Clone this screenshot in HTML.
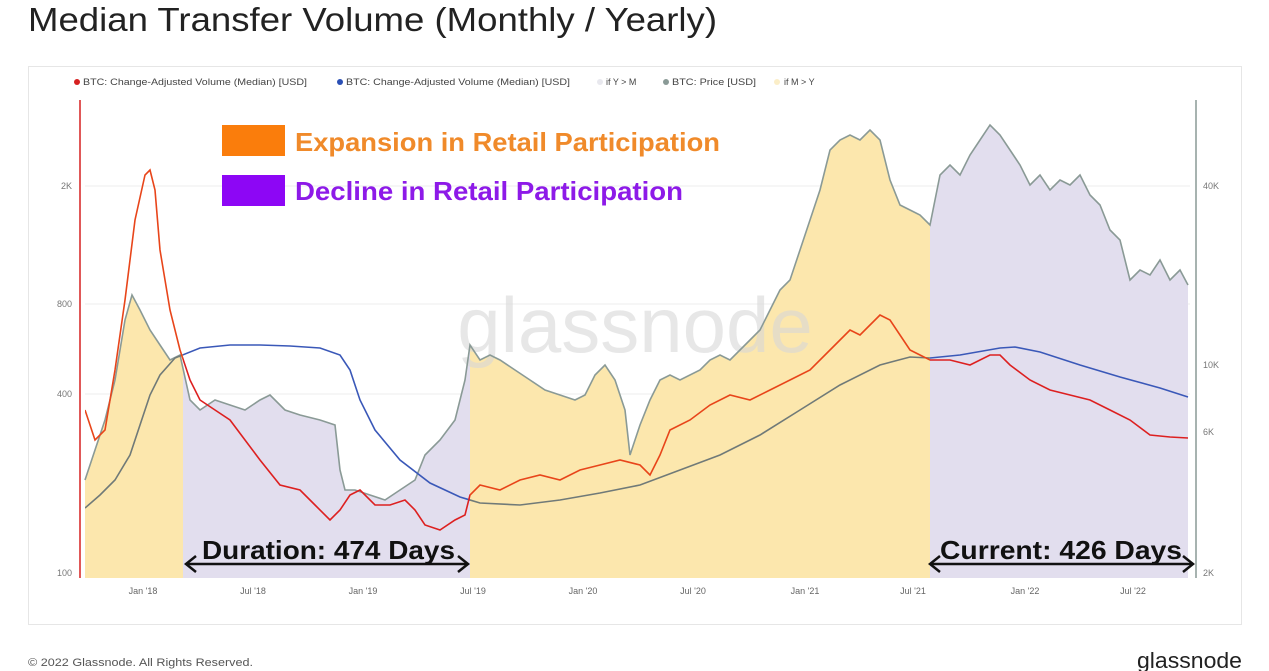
<!DOCTYPE html>
<html><head><meta charset="utf-8"><style>
html,body{margin:0;padding:0;background:#fff;width:1269px;height:671px;overflow:hidden;font-family:"Liberation Sans",sans-serif}
</style></head><body>
<svg width="1269" height="671" viewBox="0 0 1269 671" xmlns="http://www.w3.org/2000/svg" font-family="Liberation Sans, sans-serif">
<defs>
<clipPath id="cy"><rect x="85" y="90" width="98" height="490"/><rect x="470" y="90" width="460" height="490"/></clipPath>
<clipPath id="cp"><rect x="183" y="90" width="287" height="490"/><rect x="930" y="90" width="260" height="490"/></clipPath>
</defs>
<text x="28" y="31" font-size="33" fill="#222" textLength="689" lengthAdjust="spacingAndGlyphs">Median Transfer Volume (Monthly / Yearly)</text>
<rect x="28.5" y="66.5" width="1213" height="558" fill="#fff" stroke="#e6e6e6"/>
<!-- legend -->
<g font-size="9" fill="#444">
<circle cx="77" cy="82" r="3" fill="#d62020"/><text x="83" y="85" textLength="224" lengthAdjust="spacingAndGlyphs">BTC: Change-Adjusted Volume (Median) [USD]</text>
<circle cx="340" cy="82" r="3" fill="#2a4fb5"/><text x="346" y="85" textLength="224" lengthAdjust="spacingAndGlyphs">BTC: Change-Adjusted Volume (Median) [USD]</text>
<circle cx="600" cy="82" r="3" fill="#e8e8ee"/><text x="606" y="85">if Y &gt; M</text>
<circle cx="666" cy="82" r="3" fill="#8a9a96"/><text x="672" y="85" textLength="84" lengthAdjust="spacingAndGlyphs">BTC: Price [USD]</text>
<circle cx="777" cy="82" r="3" fill="#fbeec8"/><text x="784" y="85">if M &gt; Y</text>
</g>
<!-- grid -->
<g stroke="#eeeeee"><line x1="85" y1="186" x2="1190" y2="186"/><line x1="85" y1="304" x2="1190" y2="304"/><line x1="85" y1="394" x2="1190" y2="394"/></g>
<!-- fills -->
<polygon points="85,578 85,480 95,450 105,420 115,380 125,320 132,295 140,310 150,330 160,345 170,360 180,355 190,400 200,410 215,400 230,405 245,410 260,400 270,395 285,410 300,415 320,420 335,425 340,470 345,490 355,490 370,495 385,500 400,490 415,480 425,455 440,440 455,420 465,380 470,345 480,360 490,355 500,360 515,370 530,380 545,390 560,395 575,400 585,395 595,375 605,365 615,380 625,410 630,455 640,425 650,400 660,380 670,375 680,380 700,370 710,360 720,355 730,360 740,350 750,340 760,330 770,310 780,290 790,280 800,250 810,220 820,190 830,150 840,140 850,135 860,140 870,130 880,140 890,180 900,205 910,210 920,215 930,225 940,175 950,165 960,175 970,155 980,140 990,125 1000,135 1010,150 1020,165 1030,185 1040,175 1050,190 1060,180 1070,185 1080,175 1090,195 1100,205 1110,230 1120,240 1130,280 1140,270 1150,275 1160,260 1170,280 1180,270 1188,285 1188,578" fill="#fce7ad" clip-path="url(#cy)"/>
<polygon points="85,578 85,480 95,450 105,420 115,380 125,320 132,295 140,310 150,330 160,345 170,360 180,355 190,400 200,410 215,400 230,405 245,410 260,400 270,395 285,410 300,415 320,420 335,425 340,470 345,490 355,490 370,495 385,500 400,490 415,480 425,455 440,440 455,420 465,380 470,345 480,360 490,355 500,360 515,370 530,380 545,390 560,395 575,400 585,395 595,375 605,365 615,380 625,410 630,455 640,425 650,400 660,380 670,375 680,380 700,370 710,360 720,355 730,360 740,350 750,340 760,330 770,310 780,290 790,280 800,250 810,220 820,190 830,150 840,140 850,135 860,140 870,130 880,140 890,180 900,205 910,210 920,215 930,225 940,175 950,165 960,175 970,155 980,140 990,125 1000,135 1010,150 1020,165 1030,185 1040,175 1050,190 1060,180 1070,185 1080,175 1090,195 1100,205 1110,230 1120,240 1130,280 1140,270 1150,275 1160,260 1170,280 1180,270 1188,285 1188,578" fill="#e2deee" clip-path="url(#cp)"/>
<text x="635" y="352" font-size="78" fill="#d8d8d8" text-anchor="middle" opacity="0.6">glassnode</text>
<polyline fill="none" stroke="#8a9a96" stroke-width="1.6" points="85,480 95,450 105,420 115,380 125,320 132,295 140,310 150,330 160,345 170,360 180,355 190,400 200,410 215,400 230,405 245,410 260,400 270,395 285,410 300,415 320,420 335,425 340,470 345,490 355,490 370,495 385,500 400,490 415,480 425,455 440,440 455,420 465,380 470,345 480,360 490,355 500,360 515,370 530,380 545,390 560,395 575,400 585,395 595,375 605,365 615,380 625,410 630,455 640,425 650,400 660,380 670,375 680,380 700,370 710,360 720,355 730,360 740,350 750,340 760,330 770,310 780,290 790,280 800,250 810,220 820,190 830,150 840,140 850,135 860,140 870,130 880,140 890,180 900,205 910,210 920,215 930,225 940,175 950,165 960,175 970,155 980,140 990,125 1000,135 1010,150 1020,165 1030,185 1040,175 1050,190 1060,180 1070,185 1080,175 1090,195 1100,205 1110,230 1120,240 1130,280 1140,270 1150,275 1160,260 1170,280 1180,270 1188,285"/>
<g fill="none" stroke-width="1.6">
<polyline clip-path="url(#cp)" stroke="#3a58b8" points="85,508 100,495 115,480 130,455 140,425 150,395 160,375 175,358 200,348 230,345 260,345 290,346 320,348 340,355 350,370 360,400 375,430 400,460 430,483 460,497 480,503 520,505 560,500 600,493 640,485 680,470 720,455 760,435 800,410 840,385 880,365 910,357 930,358 960,355 1000,348 1015,347 1040,352 1080,365 1120,377 1160,388 1188,397"/>
<polyline clip-path="url(#cy)" stroke="#707a78" points="85,508 100,495 115,480 130,455 140,425 150,395 160,375 175,358 200,348 230,345 260,345 290,346 320,348 340,355 350,370 360,400 375,430 400,460 430,483 460,497 480,503 520,505 560,500 600,493 640,485 680,470 720,455 760,435 800,410 840,385 880,365 910,357 930,358 960,355 1000,348 1015,347 1040,352 1080,365 1120,377 1160,388 1188,397"/>
<polyline clip-path="url(#cp)" stroke="#dd2020" points="85,410 95,440 105,430 115,370 125,300 135,220 145,175 150,170 155,190 160,250 170,310 180,350 190,380 200,400 215,410 230,420 245,440 260,460 280,485 300,490 315,505 330,520 340,510 350,495 360,490 375,505 390,505 405,500 415,510 425,525 440,530 455,520 465,515 470,495 480,485 500,490 520,480 540,475 560,480 580,470 600,465 620,460 640,465 650,475 660,455 670,430 690,420 710,405 730,395 750,400 770,390 790,380 810,370 830,350 840,340 850,330 860,335 870,325 880,315 890,320 900,335 910,350 920,355 930,360 950,360 970,365 990,355 1000,355 1010,365 1030,380 1050,390 1070,395 1090,400 1110,410 1130,420 1150,435 1170,437 1188,438"/>
<polyline clip-path="url(#cy)" stroke="#e8451a" points="85,410 95,440 105,430 115,370 125,300 135,220 145,175 150,170 155,190 160,250 170,310 180,350 190,380 200,400 215,410 230,420 245,440 260,460 280,485 300,490 315,505 330,520 340,510 350,495 360,490 375,505 390,505 405,500 415,510 425,525 440,530 455,520 465,515 470,495 480,485 500,490 520,480 540,475 560,480 580,470 600,465 620,460 640,465 650,475 660,455 670,430 690,420 710,405 730,395 750,400 770,390 790,380 810,370 830,350 840,340 850,330 860,335 870,325 880,315 890,320 900,335 910,350 920,355 930,360 950,360 970,365 990,355 1000,355 1010,365 1030,380 1050,390 1070,395 1090,400 1110,410 1130,420 1150,435 1170,437 1188,438"/>
</g>
<line x1="80" y1="100" x2="80" y2="578" stroke="#d62020" stroke-width="1.5"/>
<line x1="1196" y1="100" x2="1196" y2="578" stroke="#8a9a96" stroke-width="1.5"/>
<g font-size="9" fill="#777">
<text x="72" y="189" text-anchor="end">2K</text><text x="72" y="307" text-anchor="end">800</text><text x="72" y="397" text-anchor="end">400</text><text x="72" y="576" text-anchor="end">100</text>
<text x="1203" y="189">40K</text><text x="1203" y="368">10K</text><text x="1203" y="435">6K</text><text x="1203" y="576">2K</text>
</g>
<g font-size="9" fill="#666" text-anchor="middle">
<text x="143" y="594">Jan '18</text><text x="253" y="594">Jul '18</text><text x="363" y="594">Jan '19</text><text x="473" y="594">Jul '19</text><text x="583" y="594">Jan '20</text><text x="693" y="594">Jul '20</text><text x="805" y="594">Jan '21</text><text x="913" y="594">Jul '21</text><text x="1025" y="594">Jan '22</text><text x="1133" y="594">Jul '22</text>
</g>
<rect x="222" y="125" width="63" height="31" fill="#fa7d0c"/>
<text x="295" y="151" font-size="26" font-weight="bold" fill="#f08a2a" textLength="425" lengthAdjust="spacingAndGlyphs">Expansion in Retail Participation</text>
<rect x="222" y="175" width="63" height="31" fill="#8d06f5"/>
<text x="295" y="200" font-size="26" font-weight="bold" fill="#8d1ae8" textLength="388" lengthAdjust="spacingAndGlyphs">Decline in Retail Participation</text>
<g stroke="#111" stroke-width="2.5" fill="none">
<line x1="186" y1="564" x2="468" y2="564"/><polyline points="196,556 186,564 196,572"/><polyline points="458,556 468,564 458,572"/>
<line x1="930" y1="564" x2="1193" y2="564"/><polyline points="940,556 930,564 940,572"/><polyline points="1183,556 1193,564 1183,572"/>
</g>
<text x="202" y="559" font-size="26" font-weight="bold" fill="#111" textLength="253" lengthAdjust="spacingAndGlyphs">Duration: 474 Days</text>
<text x="940" y="559" font-size="26" font-weight="bold" fill="#111" textLength="242" lengthAdjust="spacingAndGlyphs">Current: 426 Days</text>
<text x="28" y="666" font-size="11" fill="#555" textLength="225" lengthAdjust="spacingAndGlyphs">© 2022 Glassnode. All Rights Reserved.</text>
<text x="1242" y="668" font-size="22" fill="#222" text-anchor="end" textLength="105" lengthAdjust="spacingAndGlyphs">glassnode</text>
</svg>
</body></html>
